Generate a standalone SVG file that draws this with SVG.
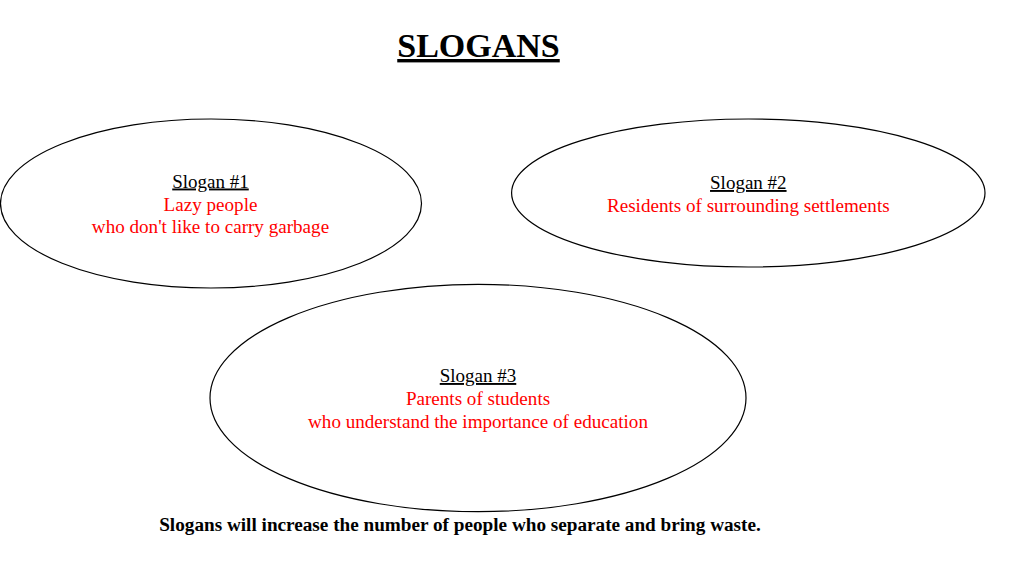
<svg xmlns="http://www.w3.org/2000/svg" width="1024" height="576" viewBox="0 0 1024 576">
  <style>
    .oval { fill: #ffffff; stroke: #000000; stroke-width: 1.2; }
    text { font-family: "Liberation Serif", "Times New Roman", serif; text-anchor: middle; }
    .head { font-size: 19px; fill: #000000; text-decoration: underline; }
    .body { font-size: 19.1px; fill: #ff0000; }
    .title { font-size: 34px; font-weight: bold; fill: #000000; text-decoration: underline; }
    .foot { font-size: 19.2px; font-weight: bold; fill: #000000; }
  </style>
  <rect width="1024" height="576" fill="#ffffff"/>
  <g id="title">
    <text class="title" x="478.5" y="57">SLOGANS</text>
  </g>
  <g id="connectors"></g>
  <g id="slogan1">
    <ellipse class="oval" cx="211" cy="203.5" rx="210.5" ry="84.5"/>
    <text class="head" x="210.5" y="187.5">Slogan #1</text>
    <text class="body" x="210.5" y="210.5">Lazy people</text>
    <text class="body" x="210.5" y="233">who don't like to carry garbage</text>
  </g>
  <g id="slogan2">
    <ellipse class="oval" cx="748.3" cy="193" rx="236.7" ry="74"/>
    <text class="head" x="748.3" y="189">Slogan #2</text>
    <text class="body" x="748.3" y="211.5">Residents of surrounding settlements</text>
  </g>
  <g id="slogan3">
    <ellipse class="oval" cx="478" cy="398" rx="268" ry="113.7"/>
    <text class="head" x="478" y="382">Slogan #3</text>
    <text class="body" x="478" y="405">Parents of students</text>
    <text class="body" x="478" y="428">who understand the importance of education</text>
  </g>
  <g id="footer">
    <text class="foot" x="460" y="531">Slogans will increase the number of people who separate and bring waste.</text>
  </g>
</svg>
